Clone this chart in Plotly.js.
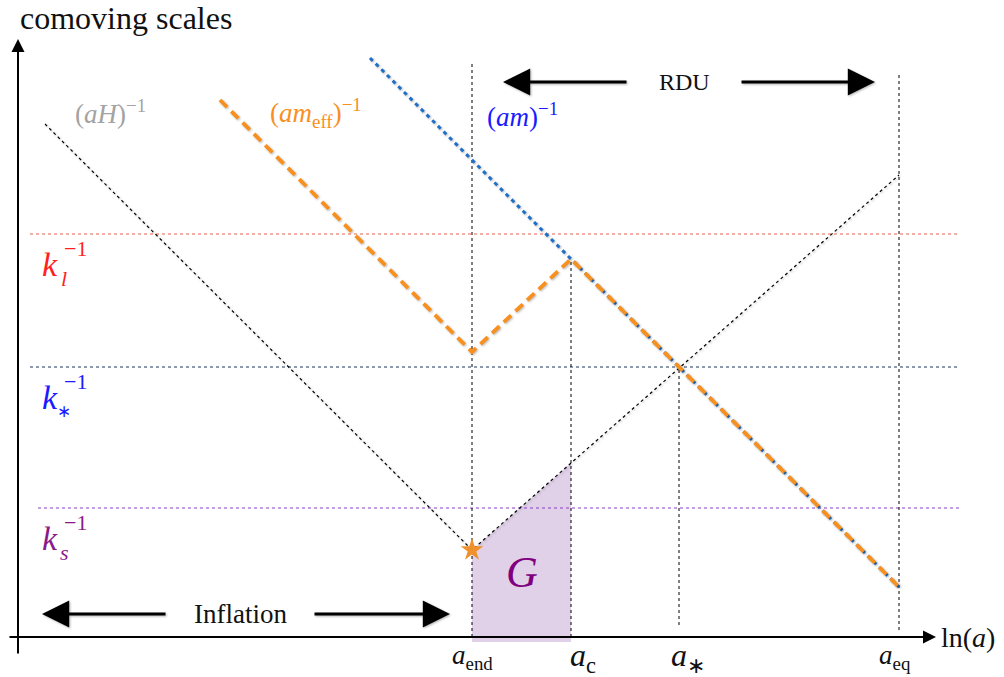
<!DOCTYPE html>
<html>
<head>
<meta charset="utf-8">
<script src="https://cdn.plot.ly/plotly-3.0.1.min.js"></script>
<style>
  html, body { margin: 0; padding: 0; background: #fff; }
  #chart { width: 1004px; height: 677px; }
</style>
</head>
<body>
<div id="chart"></div>
<script>
// Horizon-crossing sketch: comoving scales against ln(a)

// Characteristic epochs on the ln(a) axis
const epochLabels = ['<i>a</i><sub>end</sub>', '<i>a</i><sub>c</sub>', '<i>a</i><sub>∗</sub>', '<i>a</i><sub>eq</sub>'];
const epochLnA    = [4.72, 5.71, 6.79, 8.99];
const epochTop    = [5.75, 3.78, 2.70, 5.65];
const epochBottom = [0.00, 0.00, 0.12, 0.07];

// Comoving mode scales k^-1
const modeLetters = ['<i>l</i>', '∗', '<i>s</i>'];
const modeScale   = [4.03, 2.70, 1.29];
const modeColors  = ['#ff1f1f', '#1a1aff', '#8a1a8a'];
const modeLineColors = ['#e9604c', '#1d3658', '#8a3fc4'];
const modeStart   = [0.30, 0.30, 0.38];
const modeEnd     = 9.60;

// Comoving Hubble radius (aH)^-1
const hubbleLnA   = [0.45, 4.72, 8.99];
const hubbleScale = [5.13, 0.87, 4.62];

// Compton wavelength (am)^-1
const massLnA     = [3.70, 8.99];
const massScale   = [5.79, 0.50];

// Effective Compton wavelength (am_eff)^-1
const effLnA      = [2.20, 4.72, 5.71, 8.99];
const effScale    = [5.37, 2.85, 3.78, 0.50];

// Phase arrows
const phaseNames  = ['Inflation', 'RDU'];
const phaseLevel  = [0.23, 5.55];
const phaseLeft   = [0.42, 5.03];
const phaseRight  = [4.50, 8.75];
const phaseGapL   = [1.67, 6.28];
const phaseGapR   = [3.13, 7.40];

const serif = 'Liberation Serif';

// value of the Hubble line at a given ln(a)
function hubbleAt(x) {
  for (let i = 0; i < hubbleLnA.length - 1; i++) {
    const x0 = hubbleLnA[i], x1 = hubbleLnA[i + 1];
    if (x >= x0 && x <= x1) {
      const t = (x - x0) / (x1 - x0);
      return hubbleScale[i] + t * (hubbleScale[i + 1] - hubbleScale[i]);
    }
  }
  return null;
}

const traces = [];

// G region between a_end and a_c below the Hubble radius
const gTop = hubbleAt(epochLnA[1]);
traces.push({
  x: [epochLnA[0], epochLnA[0], epochLnA[1], epochLnA[1]],
  y: [-0.05, hubbleAt(epochLnA[0]), gTop, -0.05],
  fill: 'toself', fillcolor: 'rgba(178,140,198,0.40)',
  mode: 'lines', line: {width: 0}, hoverinfo: 'skip'
});

// mode scale lines
modeScale.forEach((s, i) => traces.push({
  x: [modeStart[i], modeEnd], y: [s, s], mode: 'lines',
  line: {color: modeLineColors[i], width: 1.1, dash: 'dot'}, hoverinfo: 'skip'
}));

// epoch guide lines
epochLnA.forEach((x, i) => traces.push({
  x: [x, x], y: [epochBottom[i], epochTop[i]], mode: 'lines',
  line: {color: '#000', width: 1, dash: 'dot'}, hoverinfo: 'skip'
}));

// Hubble radius
traces.push({
  x: hubbleLnA, y: hubbleScale, mode: 'lines',
  line: {color: '#000', width: 1.2, dash: 'dot'}, hoverinfo: 'skip'
});

// Compton wavelength
traces.push({
  x: massLnA, y: massScale, mode: 'lines',
  line: {color: '#1f6fc8', width: 3, dash: '4px,4px'}, hoverinfo: 'skip'
});

// effective Compton wavelength
traces.push({
  x: effLnA, y: effScale, mode: 'lines',
  line: {color: '#f7901e', width: 3.8, dash: '10px,6px'}, hoverinfo: 'skip'
});

// end of inflation marker
traces.push({
  x: [hubbleLnA[1]], y: [hubbleScale[1]], mode: 'markers',
  marker: {symbol: 'star', size: 17, color: '#f0922b', line: {width: 0}},
  hoverinfo: 'skip'
});

const ann = [];
const txt = (x, y, text, size, color, extra) => Object.assign({
  x, y, xref: 'x', yref: 'y', text, showarrow: false,
  font: {family: serif, size, color: color || '#111'},
  xanchor: 'center', yanchor: 'middle'
}, extra || {});
const arrow = (x0, y0, x1, y1, w, s) => ({
  x: x1, y: y1, ax: x0, ay: y0, xref: 'x', yref: 'y', axref: 'x', ayref: 'y',
  text: '', showarrow: true, arrowhead: 2, arrowsize: s, arrowwidth: w,
  arrowcolor: '#000', standoff: 0, startstandoff: 0
});

// axes
ann.push(arrow(0.18, -0.18, 0.18, 5.98, 2, 1.3));
ann.push(arrow(0.08, 0.0, 9.36, 0.0, 2, 1.3));
ann.push(txt(1.26, 6.19, 'comoving scales', 32));
ann.push(txt(9.68, 0.0, 'ln(<i>a</i>)', 28));

// epoch labels
const epochSize = [27, 32, 32, 27];
const epochShift = [0, 12, 9, -4];
epochLnA.forEach((x, i) => ann.push(txt(x, -0.20, epochLabels[i], epochSize[i], '#111', {xshift: epochShift[i]})));

// mode labels: k with stacked superscript and subscript
const subSize = [22, 17, 22];
modeScale.forEach((s, i) => {
  ann.push(txt(0.50, s - 0.30, '<i>k</i>', 34, modeColors[i]));
  ann.push(txt(0.50, s - 0.30, '−1', 22, modeColors[i], {xshift: 25, yshift: 16}));
  ann.push(txt(0.50, s - 0.30, modeLetters[i], subSize[i], modeColors[i], {xshift: 14, yshift: -14}));
});

// curve labels
ann.push(txt(1.10, 5.25, '(<i>aH</i>)<sup>−1</sup>', 27, '#a3a3a3'));
ann.push(txt(3.16, 5.24, '(<i>am</i><sub>eff</sub>)<sup>−1</sup>', 27, '#f7901e'));
ann.push(txt(5.22, 5.22, '(<i>am</i>)<sup>−1</sup>', 27, '#1a1aff'));
ann.push(txt(5.22, 0.65, '<i>G</i>', 44, '#800080'));

// phase arrows
phaseNames.forEach((n, i) => {
  ann.push(arrow(phaseGapL[i], phaseLevel[i], phaseLeft[i], phaseLevel[i], 3.2, 1.7));
  ann.push(arrow(phaseGapR[i], phaseLevel[i], phaseRight[i], phaseLevel[i], 3.2, 1.7));
  ann.push(txt((phaseGapL[i] + phaseGapR[i]) / 2, phaseLevel[i], n, i === 0 ? 27 : 24));
});

const layout = {
  width: 1004, height: 677,
  margin: {l: 0, r: 0, t: 0, b: 0},
  paper_bgcolor: '#fff', plot_bgcolor: '#fff',
  showlegend: false,
  font: {family: serif},
  xaxis: {range: [0, 10.04], visible: false, fixedrange: true},
  yaxis: {range: [-0.40, 6.37], visible: false, fixedrange: true},
  annotations: ann
};

Plotly.newPlot('chart', traces, layout, {staticPlot: true, displayModeBar: false}).then(() => {
  // soft drop shadow under the curves and the phase arrows
  const tr = document.querySelectorAll('.scatterlayer .trace');
  [tr.length - 4, tr.length - 3, tr.length - 2].forEach(k => {
    if (tr[k]) tr[k].style.filter = 'drop-shadow(1.5px 1.5px 1px rgba(0,0,0,0.28))';
  });
  document.querySelectorAll('.annotation-arrow-g').forEach((g, k) => {
    if (k > 1) g.style.filter = 'drop-shadow(1px 1px 1px rgba(0,0,0,0.3))';
  });
});
</script>
</body>
</html>
